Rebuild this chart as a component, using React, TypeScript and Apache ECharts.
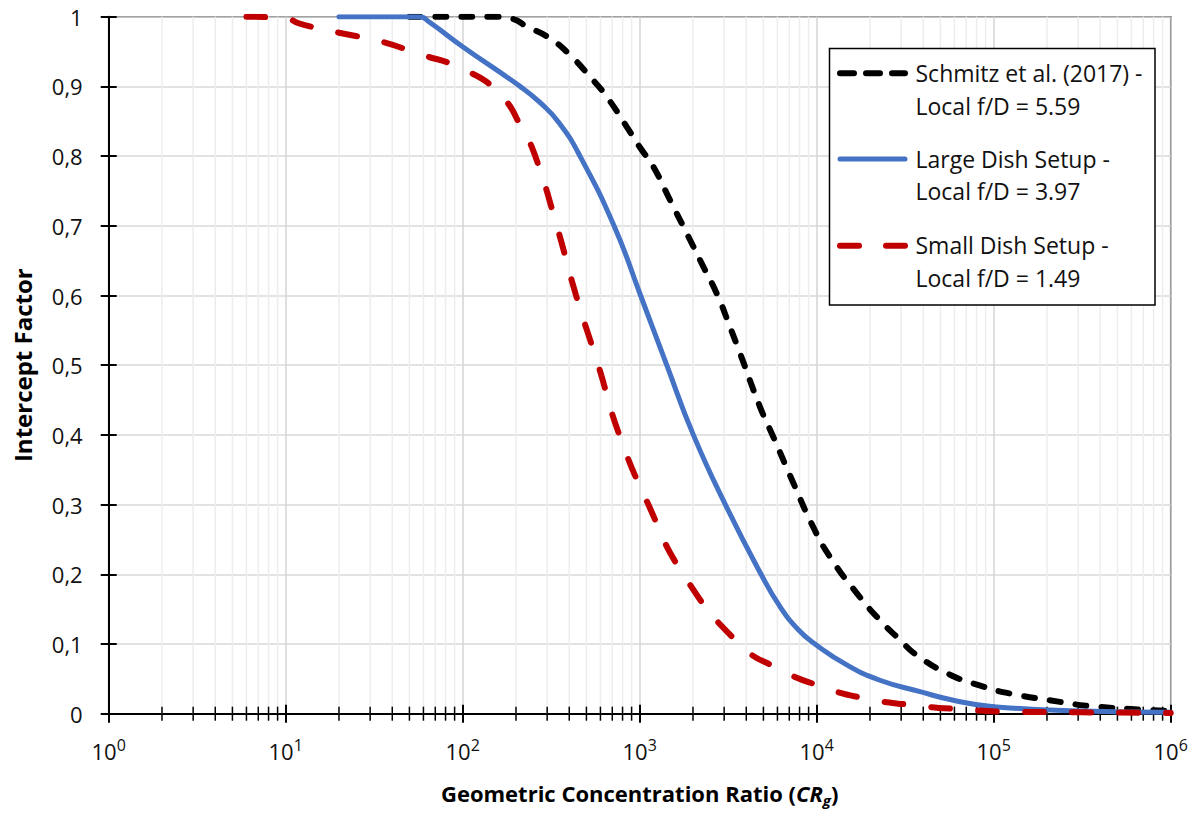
import React, { useEffect, useRef } from 'react';
import * as echarts from 'echarts';

// ---------- data ----------
const xMajorTicks = [1, 10, 100, 1000, 10000, 100000, 1000000];
const yTickLabels = ['0', '0,1', '0,2', '0,3', '0,4', '0,5', '0,6', '0,7', '0,8', '0,9', '1'];

const schmitzX = [50, 150, 190, 230, 311, 404, 524, 652, 845, 1000, 1194, 1483, 1923, 2291, 2723, 3236, 3690, 4786, 5689, 7379, 9550, 11885, 16827, 22803, 29512, 36728, 56624, 87297, 123595, 236592, 350752, 671429, 1000000];
const schmitzY = [1, 1, 0.997, 0.986, 0.969, 0.945, 0.914, 0.885, 0.842, 0.813, 0.785, 0.737, 0.68, 0.641, 0.603, 0.555, 0.517, 0.44, 0.397, 0.331, 0.268, 0.225, 0.173, 0.134, 0.106, 0.084, 0.056, 0.039, 0.029, 0.017, 0.011, 0.006, 0.004];

const largeX = [20, 57, 65, 100, 211, 273, 350, 460, 716, 1012, 1422, 2010, 3048, 4850, 6209, 7900, 9770, 14790, 22750, 38370, 60000, 100000, 316000, 1000000];
const largeY = [1, 1, 0.992, 0.957, 0.9, 0.877, 0.848, 0.8, 0.7, 0.6, 0.5, 0.4, 0.3, 0.2, 0.1535, 0.12, 0.1, 0.07, 0.048, 0.0316, 0.019, 0.01, 0.004, 0.002];

const smallX = [6, 10, 12, 20, 34, 56, 100, 162, 221, 257, 340, 437, 583, 767, 1119, 1762, 3656, 6026, 10351, 18621, 34277, 63096, 117490, 316000, 1000000];
const smallY = [1, 0.998, 0.99, 0.977, 0.965, 0.947, 0.925, 0.889, 0.835, 0.8, 0.7, 0.6, 0.5, 0.4, 0.3, 0.2, 0.1, 0.065, 0.04, 0.022, 0.0125, 0.0065, 0.003, 0.002, 0.001];

const seriesNames = ['Schmitz et al. (2017) -\nLocal f/D = 5.59', 'Large Dish Setup -\nLocal f/D = 3.97', 'Small Dish Setup -\nLocal f/D = 1.49'];
const legendLines = [
  ['Schmitz et al. (2017) -', 'Local f/D = 5.59'],
  ['Large Dish Setup -', 'Local f/D = 3.97'],
  ['Small Dish Setup -', 'Local f/D = 1.49'],
];

const FONT = "'Open Sans', sans-serif";

const zip = (xs: number[], ys: number[]) => xs.map((x, i) => [x, ys[i]]);

// minor tick positions (2..9 x 10^k)
const minorTicks: number[] = [];
for (let k = 0; k < 6; k++) {
  for (let m = 2; m <= 9; m++) minorTicks.push(m * Math.pow(10, k));
}

export default function App() {
  const ref = useRef<HTMLDivElement>(null);
  useEffect(() => {
    const chart = echarts.init(ref.current!, null, { renderer: 'svg' });
    const gridLeft = 108.7;
    const gridRight = 30.3;
    const gridTop = 16.7;
    const gridBottom = 103.3;

    const xLabelRich = {
      m: { fontSize: 22, fontFamily: FONT, color: '#111', lineHeight: 28, verticalAlign: 'middle' },
      s: { fontSize: 16, fontFamily: FONT, color: '#111', lineHeight: 16, verticalAlign: 'top' },
    };

    const legendColors = ['#000000', '#4472C4', '#C00000'];
    const legendDash: any[] = [[14, 12], null, [19, 27]];
    const legendWidths = [6, 5, 6];
    const legendIconY = [73.3, 159, 245.7];
    const legendTextY = [[73.3, 106.4], [159, 191], [244.8, 277.5]];

    const graphic: any[] = [
      {
        type: 'rect',
        shape: { x: 829.5, y: 48.5, width: 325.5, height: 256.5 },
        style: { fill: '#fff', stroke: '#000', lineWidth: 1.5 },
        z: 100,
      },
    ];
    legendLines.forEach((lines, i) => {
      graphic.push({
        type: 'line',
        shape: { x1: 840, y1: legendIconY[i], x2: 905, y2: legendIconY[i] },
        style: {
          stroke: legendColors[i],
          lineWidth: legendWidths[i],
          lineDash: legendDash[i],
          lineCap: 'round',
        },
        z: 101,
      });
      lines.forEach((t, j) => {
        graphic.push({
          type: 'text',
          x: 915.5,
          y: legendTextY[i][j],
          style: {
            text: t,
            fontSize: 23,
            fontFamily: FONT,
            fill: '#111',
            align: 'left',
            verticalAlign: 'middle',
          },
          z: 101,
        });
      });
    });

    const lineCommon = {
      type: 'line',
      showSymbol: false,
      symbol: 'none',
      smooth: 0.5,
      xAxisIndex: 0,
      yAxisIndex: 0,
    };

    const option: any = {
      animation: false,
      backgroundColor: '#fff',
      grid: {
        left: gridLeft,
        right: gridRight,
        top: gridTop,
        bottom: gridBottom,
        show: true,
        borderColor: '#000',
        borderWidth: 1.5,
        backgroundColor: 'transparent',
      },
      xAxis: [
        {
          type: 'log',
          logBase: 10,
          min: xMajorTicks[0],
          max: xMajorTicks[xMajorTicks.length - 1],
          position: 'bottom',
          name: '{b|Geometric Concentration Ratio (}{i|CR}{g|g}{b|)}',
          nameLocation: 'middle',
          nameGap: 64,
          nameTextStyle: {
            rich: {
              b: { fontSize: 22, fontWeight: 'bold', fontFamily: FONT, color: '#000', lineHeight: 30, verticalAlign: 'middle' },
              i: { fontSize: 22, fontWeight: 'bold', fontStyle: 'italic', fontFamily: FONT, color: '#000', lineHeight: 30, verticalAlign: 'middle' },
              g: { fontSize: 15, fontWeight: 'bold', fontStyle: 'italic', fontFamily: FONT, color: '#000', lineHeight: 15, verticalAlign: 'bottom' },
            },
          },
          axisLine: { show: true, onZero: false, lineStyle: { color: '#000', width: 2 } },
          axisTick: { show: true, inside: false, length: 9, lineStyle: { color: '#000', width: 2 } },
          axisLabel: {
            show: true,
            margin: 23,
            showMinLabel: true,
            showMaxLabel: true,
            formatter: (v: number) => '{m|10}{s|' + Math.round(Math.log10(v)) + '}',
            rich: xLabelRich,
          },
          splitLine: { show: true, lineStyle: { color: '#d4d4d4', width: 1.5 } },
        },
        {
          type: 'log',
          logBase: 10,
          min: xMajorTicks[0],
          max: xMajorTicks[xMajorTicks.length - 1],
          position: 'bottom',
          axisLine: { show: false },
          axisTick: { show: true, inside: true, length: 9, lineStyle: { color: '#000', width: 2 } },
          axisLabel: { show: false },
          splitLine: { show: false },
        },
      ],
      yAxis: [
        {
          type: 'value',
          min: 0,
          max: 1,
          interval: 0.1,
          position: 'left',
          name: 'Intercept Factor',
          nameLocation: 'middle',
          nameGap: 74,
          nameRotate: 90,
          nameTextStyle: { fontSize: 24, fontWeight: 'bold', fontFamily: FONT, color: '#000' },
          axisLine: { show: true, onZero: false, lineStyle: { color: '#000', width: 2 } },
          axisTick: { show: true, inside: false, length: 8, lineStyle: { color: '#000', width: 2 } },
          axisLabel: {
            margin: 26,
            fontSize: 22,
            fontFamily: FONT,
            color: '#111',
            formatter: (v: number) => yTickLabels[Math.round(v * 10)],
          },
          splitLine: { show: true, lineStyle: { color: '#d9d9d9', width: 1.5 } },
        },
        {
          type: 'value',
          min: 0,
          max: 1,
          interval: 0.1,
          position: 'left',
          offset: 0,
          axisLine: { show: false },
          axisTick: { show: true, inside: true, length: 8, lineStyle: { color: '#000', width: 2 } },
          axisLabel: { show: false },
          splitLine: { show: false },
        },
      ],
      graphic,
      series: [
        {
          type: 'custom',
          name: 'minor',
          xAxisIndex: 0,
          yAxisIndex: 0,
          z: 1,
          silent: true,
          data: minorTicks.map((v) => [v, 0]),
          renderItem: (params: any, api: any) => {
            const v = api.value(0);
            const top = api.coord([v, 1]);
            const bot = api.coord([v, 0]);
            return {
              type: 'group',
              children: [
                {
                  type: 'line',
                  shape: { x1: bot[0], y1: top[1], x2: bot[0], y2: bot[1] },
                  style: { stroke: '#ededed', lineWidth: 1.5 },
                },
                {
                  type: 'line',
                  shape: { x1: bot[0], y1: bot[1] - 7, x2: bot[0], y2: bot[1] + 7 },
                  style: { stroke: '#000', lineWidth: 1.5 },
                },
              ],
            };
          },
        },
        {
          ...lineCommon,
          name: seriesNames[0],
          data: zip(schmitzX, schmitzY),
          z: 3,
          lineStyle: { color: '#000000', width: 6, type: [11, 15], cap: 'round' },
        },
        {
          ...lineCommon,
          name: seriesNames[1],
          data: zip(largeX, largeY),
          z: 4,
          lineStyle: { color: '#4472C4', width: 5, type: 'solid', cap: 'round' },
        },
        {
          ...lineCommon,
          name: seriesNames[2],
          data: zip(smallX, smallY),
          z: 5,
          lineStyle: { color: '#C00000', width: 6, type: [19, 28], cap: 'round' },
        },
      ],
    };
    chart.setOption(option);
    return () => chart.dispose();
  }, []);
  return (
    <div
      ref={ref}
      style={{ position: 'absolute', left: 0, top: 0, width: 1201, height: 817, background: '#fff' }}
    />
  );
}
